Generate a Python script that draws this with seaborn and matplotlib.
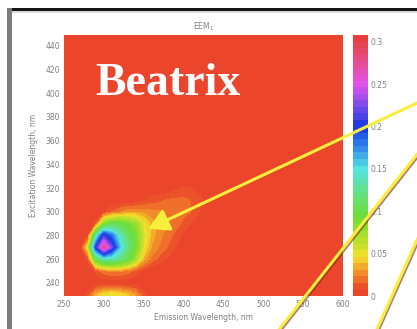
import numpy as np
import matplotlib
matplotlib.use("Agg")
import matplotlib.pyplot as plt
import seaborn as sns
from matplotlib.colors import LinearSegmentedColormap
from matplotlib.patches import FancyArrowPatch, Rectangle
from matplotlib.lines import Line2D
import matplotlib.patheffects as pe

# Excitation-emission matrix: fluorescence peak region (intensity, a.u.)
peak_emission = [270, 280, 290, 300, 310, 320, 330, 340, 350, 360, 370, 380, 390, 400, 410, 420, 430, 440]
peak_excitation = [230, 240, 250, 260, 270, 280, 290, 300, 310, 320, 330]
peak_intensity = [
    # 270   280    290    300    310    320    330    340    350    360    370    380    390    400    410    420   430  440
    [0.0, 0.01, 0.035, 0.048, 0.052, 0.048, 0.04, 0.03, 0.012, 0.0, 0.0, 0.0, 0.0, 0.0, 0.0, 0.0, 0.0, 0.0],
    [0.0, 0.0, 0.0, 0.0, 0.0, 0.0, 0.0, 0.0, 0.0, 0.0, 0.0, 0.0, 0.0, 0.0, 0.0, 0.0, 0.0, 0.0],
    [0.0, 0.0, 0.01, 0.02, 0.025, 0.025, 0.02, 0.012, 0.005, 0.0, 0.0, 0.0, 0.0, 0.0, 0.0, 0.0, 0.0, 0.0],
    [0.0, 0.01, 0.10, 0.13, 0.13, 0.12, 0.10, 0.07, 0.035, 0.02, 0.012, 0.006, 0.0, 0.0, 0.0, 0.0, 0.0, 0.0],
    [0.0, 0.05, 0.20, 0.28, 0.22, 0.16, 0.12, 0.09, 0.05, 0.03, 0.022, 0.015, 0.008, 0.0, 0.0, 0.0, 0.0, 0.0],
    [0.0, 0.005, 0.13, 0.21, 0.18, 0.14, 0.11, 0.09, 0.055, 0.035, 0.025, 0.02, 0.012, 0.005, 0.0, 0.0, 0.0, 0.0],
    [0.0, 0.0, 0.01, 0.08, 0.10, 0.10, 0.09, 0.075, 0.05, 0.035, 0.027, 0.023, 0.02, 0.013, 0.007, 0.0, 0.0, 0.0],
    [0.0, 0.0, 0.0, 0.005, 0.015, 0.022, 0.028, 0.03, 0.028, 0.025, 0.024, 0.022, 0.021, 0.018, 0.015, 0.008, 0.0, 0.0],
    [0.0, 0.0, 0.0, 0.0, 0.0, 0.0, 0.0, 0.0, 0.006, 0.011, 0.013, 0.016, 0.017, 0.017, 0.015, 0.012, 0.0, 0.0],
    [0.0, 0.0, 0.0, 0.0, 0.0, 0.0, 0.0, 0.0, 0.0, 0.0, 0.0, 0.0, 0.006, 0.009, 0.008, 0.0, 0.0, 0.0],
    [0.0, 0.0, 0.0, 0.0, 0.0, 0.0, 0.0, 0.0, 0.0, 0.0, 0.0, 0.0, 0.0, 0.0, 0.0, 0.0, 0.0, 0.0],
]

x_ticks = [250, 300, 350, 400, 450, 500, 550, 600]
y_ticks = [240, 260, 280, 300, 320, 340, 360, 380, 400, 420, 440]
cbar_ticks = [0, 0.05, 0.1, 0.15, 0.2, 0.25, 0.3]
cbar_labels = ["0", "0.05", "0.1", "0.15", "0.2", "0.25", "0.3"]

# full measurement grid, zero outside the peak region
emission = np.arange(250, 610, 10)
excitation = np.arange(220, 470, 10)
Z = np.zeros((len(excitation), len(emission)))
col0 = int(np.where(emission == peak_emission[0])[0][0])
row0 = int(np.where(excitation == peak_excitation[0])[0][0])
P = np.array(peak_intensity)
Z[row0:row0 + P.shape[0], col0:col0 + P.shape[1]] = P

sns.set_theme(style="white")
plt.rcParams["font.family"] = ["DejaVu Sans"]

cmap = LinearSegmentedColormap.from_list("eem", [
    (0.00, (0.918, 0.255, 0.176)),
    (0.03, (0.925, 0.300, 0.165)),
    (0.08, (0.945, 0.520, 0.160)),
    (0.15, (0.965, 0.880, 0.165)),
    (0.22, (0.680, 0.880, 0.180)),
    (0.30, (0.440, 0.870, 0.200)),
    (0.41, (0.380, 0.880, 0.560)),
    (0.49, (0.330, 0.900, 0.900)),
    (0.58, (0.180, 0.480, 0.920)),
    (0.65, (0.080, 0.220, 0.900)),
    (0.73, (0.480, 0.300, 0.920)),
    (0.81, (0.880, 0.320, 0.930)),
    (0.90, (0.900, 0.300, 0.560)),
    (1.00, (0.910, 0.240, 0.200)),
])

vmax = 0.308
levels = np.linspace(0, vmax, 41)

fig = plt.figure(figsize=(4.17, 3.29), dpi=100)
W, H = 417.0, 329.0
ax = fig.add_axes([64 / W, 1 - 296 / H, 279 / W, 261 / H])
cax = fig.add_axes([353 / W, 1 - 296 / H, 15 / W, 261 / H])

cf = ax.contourf(emission, excitation, Z, levels=levels, cmap=cmap, vmin=0, vmax=vmax)
ax.set_xlim(250, 600)
ax.set_ylim(229, 449)

lab_color = "#808080"
ax.set_xticks(x_ticks)
ax.set_yticks(y_ticks)
ax.tick_params(axis="both", length=0, labelsize=5.5, labelcolor=lab_color, pad=3)
for s in ax.spines.values():
    s.set_visible(False)
ax.set_xlabel("Emission Wavelength, nm", fontsize=5.5, color=lab_color)
ax.set_ylabel("Excitation Wavelength, nm", fontsize=5.5, color=lab_color)
ax.xaxis.set_label_coords(0.5, -0.065)
ax.yaxis.set_label_coords(-0.093, 0.5)
ax.set_title("EEM$_{1}$", fontsize=5.5, color=lab_color, pad=4)

fig.text(95 / W, 1 - 95 / H, "Beatrix", fontsize=33, fontweight="bold",
         family="Liberation Serif", color="white", ha="left", va="baseline")

cb = fig.colorbar(cf, cax=cax, ticks=cbar_ticks)
cb.ax.set_yticklabels(cbar_labels)
cb.ax.set_ylim(0, vmax)
cb.ax.tick_params(length=0, labelsize=5.5, labelcolor=lab_color, pad=2)
cb.outline.set_visible(False)

# slide frame
fig.add_artist(Rectangle((8 / W, 1 - 11 / H), 1, 3 / H, transform=fig.transFigure,
                         color="#151515", lw=0))
fig.add_artist(Rectangle((8 / W, 1 - 13 / H), 1, 1.5 / H, transform=fig.transFigure,
                         color="#d8d8d8", lw=0))
fig.add_artist(Rectangle((7 / W, 0), 5 / W, 1 - 8 / H, transform=fig.transFigure,
                         color="#7d7d7d", lw=0))

# yellow pointer lines
yellow = "#f8ef3c"
shadow = [pe.SimpleLineShadow(offset=(0.8, -1.0), shadow_color="#7a2a10", alpha=0.6), pe.Normal()]


def fpt(x, y):
    return (x / W, 1 - y / H)


arrow = FancyArrowPatch(fpt(432, 96), fpt(148, 229), transform=fig.transFigure,
                        arrowstyle="-|>,head_length=0.9,head_width=0.5", mutation_scale=14,
                        color=yellow, lw=2.2, shrinkA=0, shrinkB=0)
arrow.set_path_effects([pe.SimplePatchShadow(offset=(0.8, -1.0), shadow_rgbFace="#7a2a10", alpha=0.6), pe.Normal()])
fig.add_artist(arrow)

for (x0, y0), (x1, y1) in [((430, 138), (270, 341)), ((425, 222), (370, 345))]:
    a, b = fpt(x0, y0), fpt(x1, y1)
    ln = Line2D([a[0], b[0]], [a[1], b[1]], transform=fig.transFigure, color=yellow, lw=2.2)
    ln.set_path_effects(shadow)
    fig.add_artist(ln)

fig.savefig("out.png", dpi=100)
